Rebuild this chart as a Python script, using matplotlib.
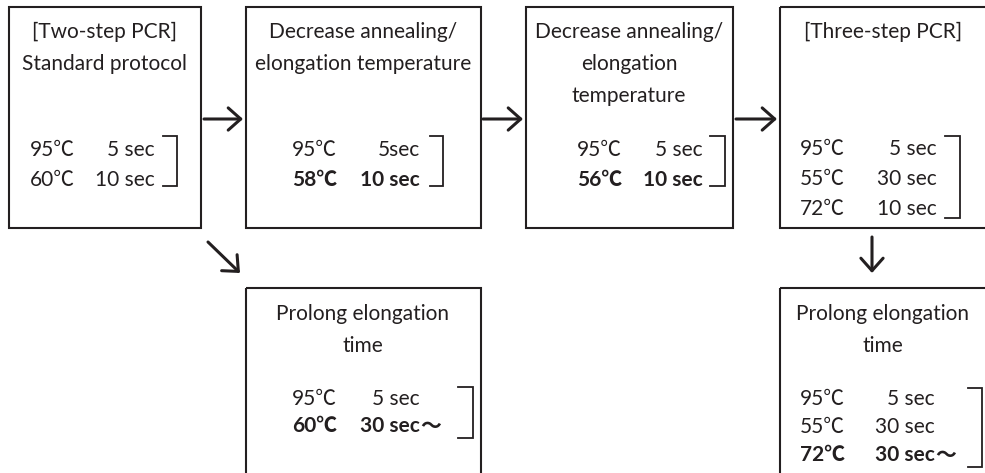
import matplotlib
matplotlib.use("Agg")
import matplotlib.pyplot as plt
from matplotlib.patches import Rectangle

plt.rcParams['font.family'] = ['Lato', 'Noto Sans CJK JP', 'DejaVu Sans']

# ---- data ----
titles = [
    "[Two-step PCR]\nStandard protocol",
    "Decrease annealing/\nelongation temperature",
    "Decrease annealing/\nelongation\ntemperature",
    "[Three-step PCR]",
    "Prolong elongation\ntime",
    "Prolong elongation\ntime",
]
temps = [
    ["95℃", "60℃"],
    ["95℃", "58℃"],
    ["95℃", "56℃"],
    ["95℃", "55℃", "72℃"],
    ["95℃", "60℃"],
    ["95℃", "55℃", "72℃"],
]
times = [
    ["5 sec", "10 sec"],
    ["5sec", "10 sec"],
    ["5 sec", "10 sec"],
    ["5 sec", "30 sec", "10 sec"],
    ["5 sec", "30 sec"],
    ["5 sec", "30 sec", "30 sec"],
]
suffix = [
    ["", ""],
    ["", ""],
    ["", ""],
    ["", "", ""],
    ["", "〜"],
    ["", "", "〜"],
]
bold = [
    [False, False],
    [False, True],
    [False, True],
    [False, False, False],
    [False, True],
    [False, False, True],
]

# ---- layout (pixel coordinates) ----
W, H = 985, 473
boxes = [  # x0, y0, x1, y1
    (9, 7, 201, 228),
    (246, 7, 481, 228),
    (526, 7, 733, 228),
    (780, 7, 995, 228),
    (246, 288, 481, 485),
    (780, 288, 995, 485),
]
title_y = [30, 30, 30, 30, 312, 312]
title_x = [105, 363, 629, 883, 363, 883]
line_h = 32
row_y = [[148, 178], [148, 178], [148, 178], [147, 177, 207], [397, 424], [397, 425, 453]]
temp_x = [75, 337, 622, 845, 337, 845]
time_x = [155, 420, 703, 937, 420, 935]
brk = [  # x0, x1, ytop, ybot
    (163, 177, 136, 186),
    (430, 443, 136, 186),
    (710, 725, 136, 186),
    (945, 960, 136, 218),
    (458, 473, 387, 438),
    (968, 982, 388, 467),
]
arrows = [  # (x0,y0) -> (x1,y1)
    ((204, 119), (243, 119)),
    ((483, 119), (523, 119)),
    ((736, 119), (777, 119)),
    ((208, 242), (240, 273)),
    ((872, 237), (872, 273)),
]

col = '#231f20'
fs = 15

fig = plt.figure(figsize=(W / 100, H / 100), dpi=100)
ax = fig.add_axes([0, 0, 1, 1])
ax.set_xlim(0, W)
ax.set_ylim(H, 0)
ax.axis('off')

for i, (x0, y0, x1, y1) in enumerate(boxes):
    ax.add_patch(Rectangle((x0, y0), x1 - x0, y1 - y0, fill=False,
                           edgecolor=col, lw=1.5))
    for k, line in enumerate(titles[i].split('\n')):
        ax.text(title_x[i], title_y[i] + k * line_h, line, ha='center',
                va='center_baseline', fontsize=fs, color=col)
    for j, y in enumerate(row_y[i]):
        fw = 'bold' if bold[i][j] else 'normal'
        ax.text(temp_x[i], y, temps[i][j], ha='right', va='center_baseline',
                fontsize=fs, color=col, fontweight=fw)
        ax.text(time_x[i], y, times[i][j], ha='right', va='center_baseline',
                fontsize=fs, color=col, fontweight=fw)
        if suffix[i][j]:
            ax.text(time_x[i], y, suffix[i][j], ha='left', va='center_baseline',
                    fontsize=fs, color=col, fontweight=fw,
                    family=['Noto Sans CJK JP', 'DejaVu Sans'])
    bx0, bx1, byt, byb = brk[i]
    ax.plot([bx0, bx1, bx1, bx0], [byt, byt, byb, byb], color=col, lw=1.3,
            solid_joinstyle='miter')

for (p0, p1) in arrows:
    ax.annotate('', xy=p1, xytext=p0,
                arrowprops=dict(arrowstyle='->,head_length=0.45,head_width=0.4',
                                lw=2.2, color=col, mutation_scale=20,
                                shrinkA=0, shrinkB=0))

fig.savefig('out.png', dpi=100, facecolor='white')
